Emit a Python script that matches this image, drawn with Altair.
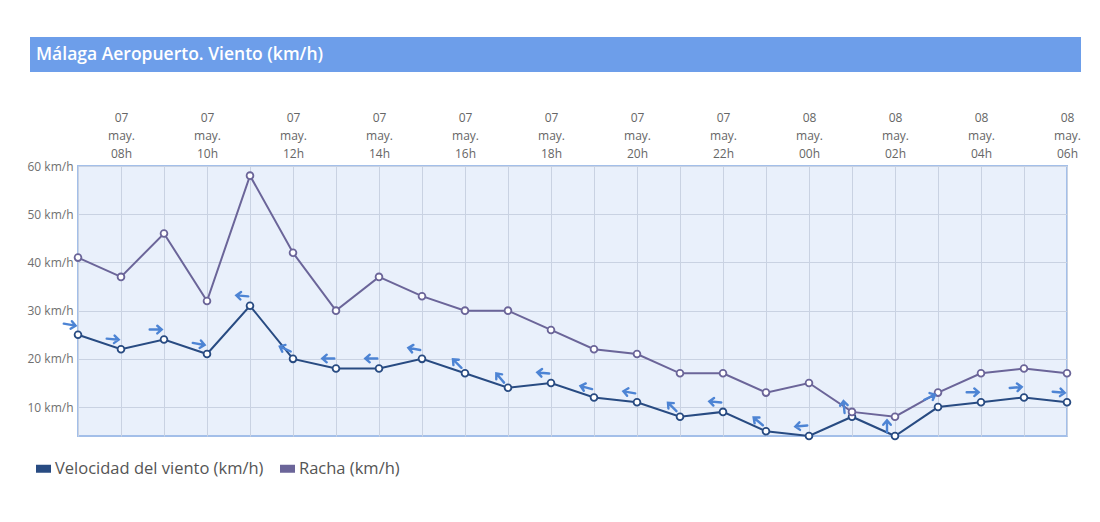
import altair as alt
import pandas as pd

days = ["07"] * 17 + ["08"] * 7
hours = ["07h", "08h", "09h", "10h", "11h", "12h", "13h", "14h", "15h", "16h", "17h", "18h",
         "19h", "20h", "21h", "22h", "23h", "00h", "01h", "02h", "03h", "04h", "05h", "06h"]
wind = [25, 22, 24, 21, 31, 20, 18, 18, 20, 17, 14, 15, 12, 11, 8, 9, 5, 4, 8, 4, 10, 11, 12, 11]
gust = [41, 37, 46, 32, 58, 42, 30, 37, 33, 30, 30, 26, 22, 21, 17, 17, 13, 15, 9, 8, 13, 17, 18, 17]
# arrow heading on screen (degrees clockwise from pointing right)
arrow_angle = [10, 5, 0, 10, 185, 205, 180, 180, 190, 225, 230, 185, 195, 190, 225, 185, 220, 175,
               265, 270, 335, 0, 355, 5]

S_WIND = "Velocidad del viento (km/h)"
S_GUST = "Racha (km/h)"

idx = list(range(len(hours)))
rows = []
for i in idx:
    rows.append({"i": i, "serie": S_WIND, "v": wind[i]})
    rows.append({"i": i, "serie": S_GUST, "v": gust[i]})
df = pd.DataFrame(rows)
df_arrow = pd.DataFrame({"i": idx, "v": wind, "ang": arrow_angle})

lbl_array = "[" + ",".join("'" + d + "|may.|" + h + "'" for d, h in zip(days, hours)) + "]"
label_expr = "datum.value % 2 == 1 ? split(" + lbl_array + "[datum.value], '|') : ''"

FONT = "Open Sans"
colors = ["#284b82", "#6b6599"]

x_enc = alt.X("i:Q", scale=alt.Scale(domain=[0, 23], nice=False, zero=False),
              axis=alt.Axis(orient="top", values=idx, labelExpr=label_expr, title=None,
                            grid=True, gridColor="#c9d2e2", gridWidth=1, ticks=False,
                            domain=False, labelColor="#666666", labelFontSize=12,
                            labelFont=FONT, labelLineHeight=18, labelPadding=42,
                            labelFlush=False, labelOverlap=False))
y_enc = alt.Y("v:Q", scale=alt.Scale(domain=[4, 60], nice=False, zero=False),
              axis=alt.Axis(values=[10, 20, 30, 40, 50, 60], labelExpr="datum.value + ' km/h'",
                            title=None, grid=True, gridColor="#c9d2e2", ticks=False,
                            domain=False, labelColor="#707070", labelFontSize=12,
                            labelFont=FONT, labelPadding=5))

color_scale = alt.Scale(domain=[S_WIND, S_GUST], range=colors)
legend = alt.Legend(orient="none", legendX=-46, legendY=291, direction="horizontal",
                    title=None, labelFont=FONT, labelFontSize=16.5, labelColor="#555555",
                    labelLimit=0,
                    symbolType="M-1,0L1,0", symbolSize=225, symbolStrokeWidth=8,
                    symbolOpacity=1, symbolFillColor="transparent",
                    columnPadding=0, labelOffset=0)

lines = alt.Chart(df).mark_line(strokeWidth=2).encode(
    x=x_enc, y=y_enc,
    color=alt.Color("serie:N", scale=color_scale, legend=legend),
)

points = alt.Chart(df).mark_point(filled=False, fill="white", size=46, strokeWidth=1.8,
                                  opacity=1, fillOpacity=1).encode(
    x="i:Q", y="v:Q",
    color=alt.Color("serie:N", scale=color_scale, legend=legend),
)

arrow_path = "M-1,0L0.85,0M0.2,-0.6L0.9,0L0.2,0.6"
arrows = alt.Chart(df_arrow).mark_point(shape=arrow_path, filled=False, size=160, strokeWidth=2.4,
                                        color="#4d84d4", opacity=1, xOffset=-8, yOffset=-10,
                                        strokeCap="round").encode(
    x="i:Q", y="v:Q",
    angle=alt.Angle("ang:Q", scale=None),
)

title_df = pd.DataFrame({"t": ["Málaga Aeropuerto. Viento (km/h)"]})
title_bar = alt.Chart(title_df).mark_rect(color="#6d9eea").encode(
    x=alt.value(-48), x2=alt.value(1003), y=alt.value(-129), y2=alt.value(-94),
)
title_text = alt.Chart(title_df).mark_text(align="left", baseline="middle", color="white",
                                           font=FONT, fontSize=17.5, fontWeight=600).encode(
    x=alt.value(-42), y=alt.value(-111), text="t:N",
)

chart = alt.layer(title_bar, title_text, lines, points, arrows).properties(
    width=989, height=270,
    autosize=alt.AutoSizeParams(type="none"),
    padding={"left": 70, "top": 158, "right": 25, "bottom": 76},
    background="white",
).configure_view(fill="#e9f0fb", stroke="#a3bfe9", strokeWidth=2)

chart.save("out.html", embed_options={"renderer": "svg", "actions": False})
